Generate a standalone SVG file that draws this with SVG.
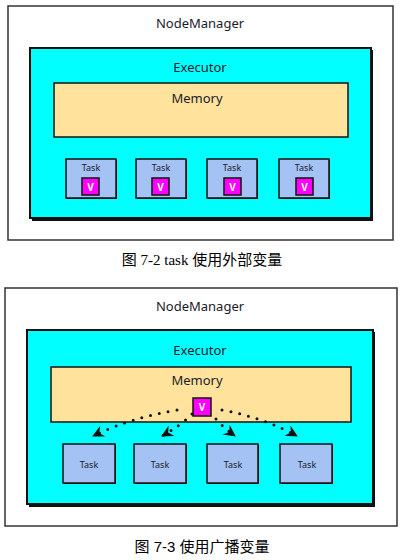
<svg xmlns="http://www.w3.org/2000/svg" width="403" height="560" viewBox="0 0 403 560">
<style>
.lbl{font-family:"Noto Sans","Liberation Sans",sans-serif;fill:#1a1a2a;text-anchor:middle}
.nm{font-size:13px}
.sm{font-size:9px}
.outer{fill:#fff;stroke:#333;stroke-width:1.5}
.exec{fill:#00ffff;stroke:#111;stroke-width:2}
.shadow{fill:#111}
.mem{fill:#ffe39c;stroke:#111;stroke-width:1.5}
.task{fill:#a4c2f4;stroke:#111;stroke-width:1.5}
.v{fill:#ff00ff;stroke:#111;stroke-width:1.5}
.vt{font-family:"Noto Sans","Liberation Sans",sans-serif;font-size:10px;fill:#fff;text-anchor:middle;font-weight:bold}
.cap{font-family:"Liberation Serif","Noto Sans CJK SC",serif;font-size:15px;fill:#000;text-anchor:middle}
.cap2{font-family:"Liberation Sans","Noto Sans CJK SC",sans-serif;font-size:15px;fill:#000;text-anchor:middle}
.dot{fill:none;stroke:#111;stroke-width:3;stroke-linecap:round;stroke-dasharray:0 9}
</style>
<defs>
<marker id="ah" markerWidth="14" markerHeight="14" refX="11" refY="6" orient="auto" markerUnits="userSpaceOnUse">
<path d="M0,0 L12,6 L0,12 L4,6 Z" fill="#111"/>
</marker>
</defs>

<!-- Figure 7-2 -->
<g id="nodemanager1">
<rect class="outer" x="8" y="6" width="385" height="234"/>
<text class="lbl nm" x="200" y="28">NodeManager</text>
</g>
<g id="executor1">
<rect class="shadow" x="32" y="50" width="341" height="171"/>
<rect class="exec" x="30" y="48" width="341" height="170"/>
<text class="lbl nm" x="200" y="72">Executor</text>
</g>
<g id="memory1">
<rect class="mem" x="54" y="83" width="294" height="54"/>
<text class="lbl nm" x="197" y="103">Memory</text>
</g>
<g id="task1a">
<rect class="shadow" x="67" y="160" width="50" height="39"/>
<rect class="task" x="66" y="159" width="50" height="39"/>
<text class="lbl sm" x="91" y="171">Task</text>
<rect class="v" x="82" y="178" width="17" height="17"/>
<text class="vt" x="90.5" y="191">V</text>
</g>
<g id="task1b">
<rect class="shadow" x="137" y="160" width="50" height="39"/>
<rect class="task" x="136" y="159" width="50" height="39"/>
<text class="lbl sm" x="161" y="171">Task</text>
<rect class="v" x="152" y="178" width="17" height="17"/>
<text class="vt" x="160.5" y="191">V</text>
</g>
<g id="task1c">
<rect class="shadow" x="208" y="160" width="50" height="39"/>
<rect class="task" x="207" y="159" width="50" height="39"/>
<text class="lbl sm" x="232" y="171">Task</text>
<rect class="v" x="224" y="178" width="17" height="17"/>
<text class="vt" x="232.5" y="191">V</text>
</g>
<g id="task1d">
<rect class="shadow" x="280" y="160" width="50" height="39"/>
<rect class="task" x="279" y="159" width="50" height="39"/>
<text class="lbl sm" x="304" y="171">Task</text>
<rect class="v" x="296" y="178" width="17" height="17"/>
<text class="vt" x="304.5" y="191">V</text>
</g>
<text class="cap" x="202" y="265">图 7-2 task 使用外部变量</text>

<!-- Figure 7-3 -->
<g id="nodemanager2">
<rect class="outer" x="5" y="288" width="392" height="238"/>
<text class="lbl nm" x="200" y="311">NodeManager</text>
</g>
<g id="executor2">
<rect class="shadow" x="29" y="332" width="346" height="175"/>
<rect class="exec" x="27" y="330" width="346" height="174"/>
<text class="lbl nm" x="200" y="355">Executor</text>
</g>
<g id="memory2">
<rect class="mem" x="51" y="367" width="300" height="55"/>
<text class="lbl nm" x="197" y="385">Memory</text>
</g>
<g id="var">
<rect class="v" x="193" y="398" width="18" height="18"/>
<text class="vt" x="202" y="411">V</text>
</g>
<g id="task2a">
<rect class="shadow" x="64" y="445" width="52" height="39"/>
<rect class="task" x="63" y="444" width="52" height="39"/>
<text class="lbl sm" x="89" y="468">Task</text>
</g>
<g id="task2b">
<rect class="shadow" x="135" y="445" width="52" height="39"/>
<rect class="task" x="134" y="444" width="52" height="39"/>
<text class="lbl sm" x="160" y="468">Task</text>
</g>
<g id="task2c">
<rect class="shadow" x="208" y="445" width="51" height="39"/>
<rect class="task" x="207" y="444" width="51" height="39"/>
<text class="lbl sm" x="233" y="468">Task</text>
</g>
<g id="task2d">
<rect class="shadow" x="281" y="445" width="52" height="39"/>
<rect class="task" x="280" y="444" width="52" height="39"/>
<text class="lbl sm" x="307" y="468">Task</text>
</g>
<g id="connectors">
<path class="dot" d="M177,410 Q130,418 93,436" marker-end="url(#ah)"/>
<path class="dot" d="M192,414 Q180,426 162,436" marker-end="url(#ah)"/>
<path class="dot" d="M216,419 Q224,428 235,436" marker-end="url(#ah)"/>
<path class="dot" d="M222,410 Q265,418 297,436" marker-end="url(#ah)"/>
</g>
<text class="cap2" x="202" y="552">图 7-3 使用广播变量</text>
</svg>
